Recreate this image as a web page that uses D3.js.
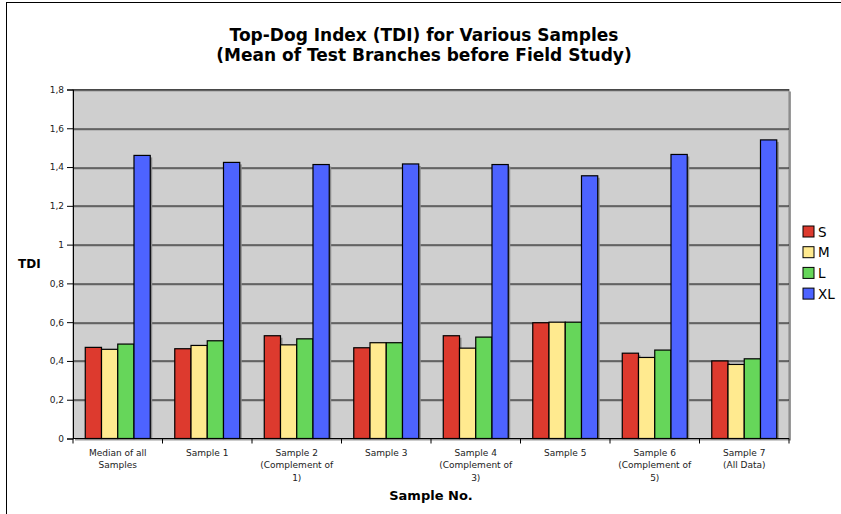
<!DOCTYPE html>
<html>
<head>
<meta charset="utf-8">
<script src="https://cdn.jsdelivr.net/npm/d3@7/dist/d3.min.js"></script>
<style>
  body { margin: 0; background: #fff; }
  text { font-family: "DejaVu Sans", Verdana, sans-serif; }
</style>
</head>
<body>
<div id="chart-area"></div>
<script>
// data
const categories = [
  "Median of all|Samples",
  "Sample 1",
  "Sample 2|(Complement of|1)",
  "Sample 3",
  "Sample 4|(Complement of|3)",
  "Sample 5",
  "Sample 6|(Complement of|5)",
  "Sample 7|(All Data)"
];
const seriesNames = ["S", "M", "L", "XL"];
const sValues  = [0.470, 0.463, 0.530, 0.468, 0.530, 0.597, 0.440, 0.400];
const mValues  = [0.460, 0.480, 0.483, 0.494, 0.466, 0.600, 0.418, 0.382];
const lValues  = [0.487, 0.504, 0.514, 0.494, 0.523, 0.600, 0.456, 0.411];
const xlValues = [1.460, 1.424, 1.413, 1.416, 1.413, 1.355, 1.465, 1.540];
const yTicks = [0, 0.2, 0.4, 0.6, 0.8, 1, 1.2, 1.4, 1.6, 1.8];
const colors = ["#DD3A2E", "#FFEA8F", "#66D65A", "#4D63FF"];

const seriesValues = [sValues, mValues, lValues, xlValues];

// set the dimensions and margins of the graph
const W = 841, H = 514;
const margin = {top: 89.5, right: 52, bottom: 75.5, left: 73},
    width = W - margin.left - margin.right,
    height = H - margin.top - margin.bottom;

const root = d3.select("#chart-area")
    .append("svg")
    .attr("width", W)
    .attr("height", H);

// chart frame (only left and top edges are visible)
root.append("rect")
    .attr("x", 6.5).attr("y", 2.5)
    .attr("width", 900).attr("height", 600)
    .attr("fill", "none")
    .attr("stroke", "#000")
    .attr("stroke-width", 1);

// title
root.append("text")
    .attr("x", 424).attr("y", 41)
    .attr("text-anchor", "middle")
    .style("font-size", "17px").style("font-weight", "bold")
    .text("Top-Dog Index (TDI) for Various Samples");
root.append("text")
    .attr("x", 424).attr("y", 61)
    .attr("text-anchor", "middle")
    .style("font-size", "17px").style("font-weight", "bold")
    .text("(Mean of Test Branches before Field Study)");

const svg = root.append("g")
    .attr("transform", `translate(${margin.left}, ${margin.top})`);

// scales
const x0 = d3.scaleBand()
    .domain(categories)
    .range([0, width])
    .paddingInner(0.274)
    .paddingOuter(0.137);
const x1 = d3.scaleBand()
    .domain(seriesNames)
    .range([0, x0.bandwidth()]);
const y = d3.scaleLinear()
    .domain([0, 1.8])
    .range([height, 0]);

// plot area
svg.append("rect")
    .attr("x", 2).attr("y", 2)
    .attr("width", width).attr("height", height)
    .attr("fill", "#9a9a9a");
svg.append("rect")
    .attr("width", width).attr("height", height)
    .attr("fill", "#CFCFCF")
    .attr("stroke", "#808080")
    .attr("stroke-width", 1);

// gridlines with a light shadow under them
const grid = yTicks.filter(d => d > 0);
svg.selectAll(".grid-sh").data(grid).enter().append("line")
    .attr("x1", 0).attr("x2", width)
    .attr("y1", d => Math.round(y(d)) + 1.5).attr("y2", d => Math.round(y(d)) + 1.5)
    .attr("stroke", "#9c9c9c");
svg.selectAll(".grid").data(grid).enter().append("line")
    .attr("x1", 0).attr("x2", width)
    .attr("y1", d => Math.round(y(d)) + 0.5).attr("y2", d => Math.round(y(d)) + 0.5)
    .attr("stroke", "#111");

// bars
const rows = [];
categories.forEach((c, i) => {
    seriesNames.forEach((s, j) => {
        rows.push({cat: c, ser: s, val: seriesValues[j][i], col: colors[j]});
    });
});

svg.selectAll(".shadow").data(rows).enter().append("rect")
    .attr("x", d => x0(d.cat) + x1(d.ser) + 2)
    .attr("y", d => y(d.val) + 2)
    .attr("width", x1.bandwidth())
    .attr("height", d => height - y(d.val) - 2)
    .attr("fill", "#8a8a8a");

svg.selectAll(".bar").data(rows).enter().append("rect")
    .attr("class", "bar")
    .attr("x", d => x0(d.cat) + x1(d.ser))
    .attr("y", d => y(d.val))
    .attr("width", x1.bandwidth())
    .attr("height", d => height - y(d.val))
    .attr("fill", d => d.col)
    .attr("stroke", "#000")
    .attr("stroke-width", 1.2);

// y axis
const yAxis = svg.append("g")
    .call(d3.axisLeft(y).tickValues(yTicks).tickSize(6).tickPadding(3)
        .tickFormat(d => String(d).replace(".", ",")));
yAxis.select(".domain").attr("stroke", "#000");
yAxis.selectAll("text").style("font-size", "9px").attr("fill", "#222");

// x axis with ticks between categories
const xAxisG = svg.append("g").attr("transform", `translate(0, ${height})`);
xAxisG.append("line")
    .attr("x1", 0).attr("x2", width)
    .attr("stroke", "#000");
const step = x0.step();
xAxisG.selectAll(".xt").data(d3.range(categories.length + 1)).enter().append("line")
    .attr("x1", d => d * step).attr("x2", d => d * step)
    .attr("y1", 0).attr("y2", 5)
    .attr("stroke", "#000");
const labels = xAxisG.selectAll(".xl").data(categories).enter().append("text")
    .attr("text-anchor", "middle")
    .attr("fill", "#222")
    .style("font-size", "9px")
    .attr("transform", d => `translate(${x0(d) + x0.bandwidth() / 2}, 17)`);
labels.selectAll("tspan").data(d => d.split("|")).enter().append("tspan")
    .attr("x", 0)
    .attr("y", (d, i) => i * 12.5)
    .text(d => d);

// axis titles
root.append("text")
    .attr("x", 18).attr("y", 268)
    .style("font-size", "12px").style("font-weight", "bold")
    .text("TDI");
root.append("text")
    .attr("x", 431).attr("y", 500)
    .attr("text-anchor", "middle")
    .style("font-size", "13px").style("font-weight", "bold")
    .text("Sample No.");

// legend
const legend = root.append("g").attr("transform", "translate(803, 226)");
const li = legend.selectAll("g").data(seriesNames).enter().append("g")
    .attr("transform", (d, i) => `translate(0, ${i * 20.7})`);
li.append("rect")
    .attr("width", 11).attr("height", 11)
    .attr("fill", (d, i) => colors[i])
    .attr("stroke", "#000");
li.append("text")
    .attr("x", 15).attr("y", 10.5)
    .style("font-size", "13.5px")
    .text(d => d);
</script>
</body>
</html>
